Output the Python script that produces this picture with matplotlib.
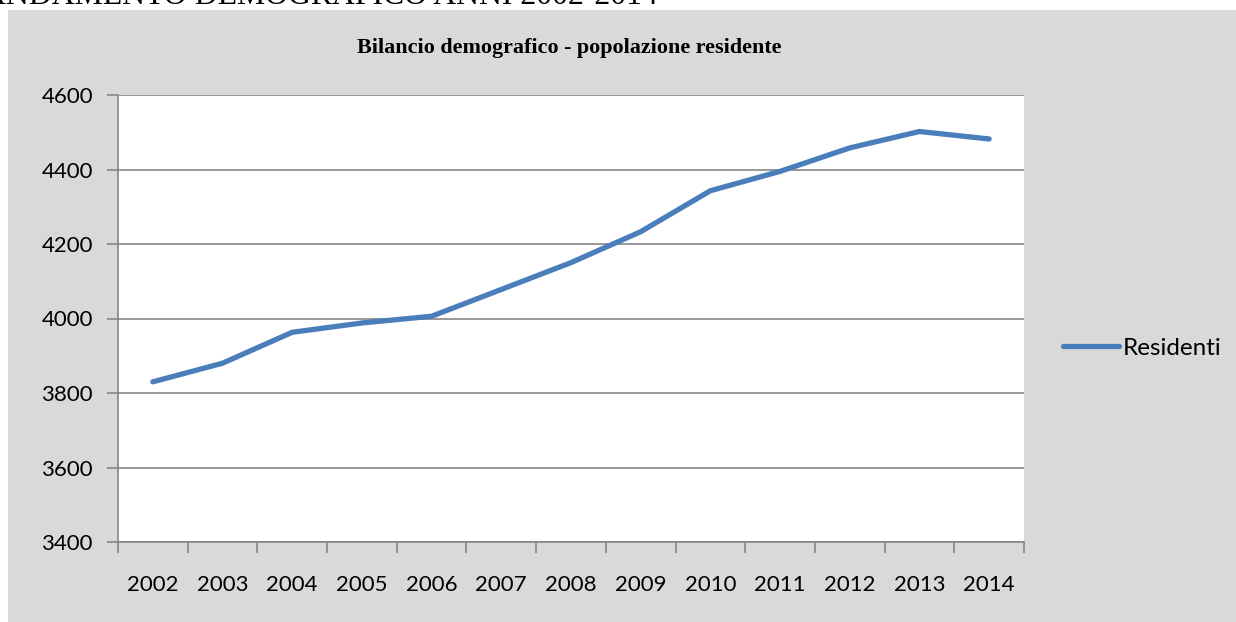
import matplotlib.pyplot as plt
from matplotlib.patches import Rectangle

# Data
years = ["2002", "2003", "2004", "2005", "2006", "2007", "2008",
         "2009", "2010", "2011", "2012", "2013", "2014"]
residenti = [3830, 3880, 3963, 3988, 4006, 4078, 4150,
             4233, 4343, 4395, 4458, 4502, 4482]
y_ticks = [3400, 3600, 3800, 4000, 4200, 4400, 4600]

W, H = 1236, 622
fig = plt.figure(figsize=(W / 100, H / 100), dpi=100)
fig.patch.set_facecolor("white")

# gray chart area
fig.patches.append(Rectangle((8 / W, 0), 1, 1 - 10 / H, transform=fig.transFigure,
                             facecolor="#d9d9d9", edgecolor="none", zorder=-5))

# page heading, cut off at the top
fig.text(-0.014, 1 + 3 / H, "ANDAMENTO DEMOGRAFICO ANNI 2002-2014",
         family="Liberation Serif", fontsize=22.9, va="center", ha="left")

ax = fig.add_axes([118 / W, 80 / H, (1024 - 118) / W, (542 - 95) / H])
ax.set_facecolor("white")

x = list(range(len(years)))
ax.plot(x, residenti, color="#4a7ebb", lw=3.8, solid_capstyle="round",
        solid_joinstyle="round", label="Residenti", zorder=3)

ax.set_xlim(-0.5, len(years) - 0.5)
ax.set_ylim(3400, 4600)
ax.set_yticks(y_ticks)
ax.yaxis.grid(True, color="#868686", lw=1.2)
ax.set_axisbelow(True)

# ticks at category boundaries, labels at centres
ax.set_xticks([i - 0.5 for i in range(len(years) + 1)])
ax.set_xticklabels([])
ax.set_xticks(x, minor=True)
ax.set_xticklabels(years, minor=True, family="Lato", fontsize=16)
ax.tick_params(axis="x", which="major", direction="out", length=8,
               color="#868686", width=1.2)
ax.tick_params(axis="x", which="minor", length=0, pad=24)
ax.tick_params(axis="y", direction="out", length=8, color="#868686",
               width=1.2, pad=10)
for lab in ax.get_yticklabels():
    lab.set_family("Lato")
    lab.set_fontsize(16)

for side in ["top", "right"]:
    ax.spines[side].set_visible(False)
for side in ["left", "bottom"]:
    ax.spines[side].set_color("#868686")
    ax.spines[side].set_linewidth(1.2)

fig.text(569 / W, 1 - 48 / H, "Bilancio demografico - popolazione residente",
         family="Liberation Serif", fontweight="bold", fontsize=15.9,
         ha="center", va="center")

fig.legend(loc="center left", bbox_to_anchor=(1041 / W, 1 - 348 / H),
           frameon=False, prop={"family": "Lato", "size": 17.5},
           handlelength=2.3, handletextpad=0.15)

fig.savefig("out.png", dpi=100)
